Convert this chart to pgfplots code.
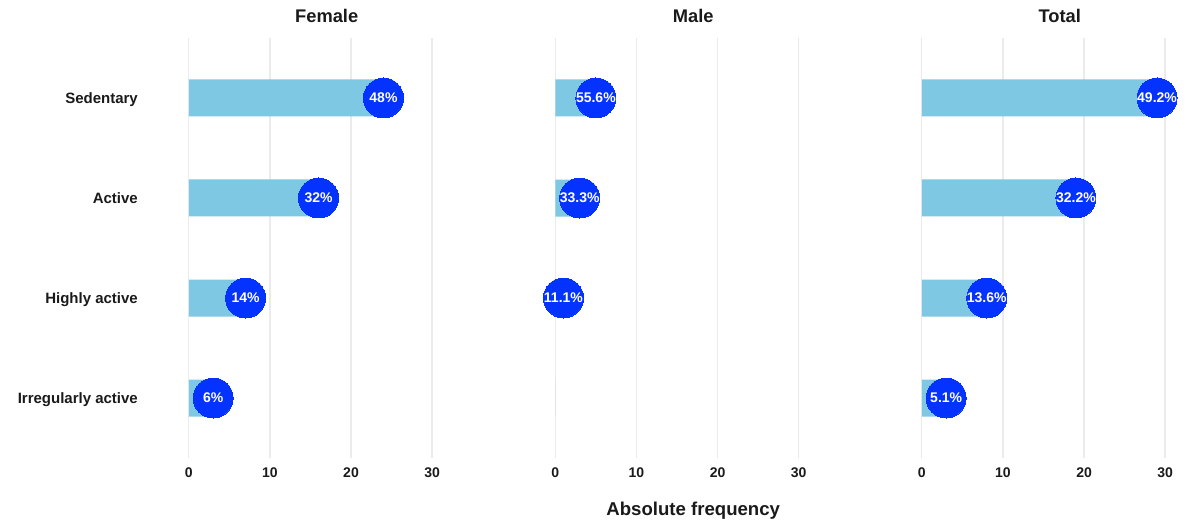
\documentclass[border=0pt]{standalone}
\usepackage{pgfplots}
\pgfplotsset{compat=1.18}
\usepackage{fontspec}
\setmainfont{Liberation Sans}
\definecolor{barblue}{HTML}{7EC8E3}
\definecolor{dotblue}{HTML}{0433FF}
\definecolor{gridgray}{HTML}{EBEBEB}
\definecolor{txt}{HTML}{1A1A1A}
\pgfplotsset{
  panel/.style={
    scale only axis,
    x=8.11pt, y=100pt, y dir=reverse,
    xmin=-1.7, xmax=35.7, ymin=0.4, ymax=4.6,
    axis line style={draw=none},
    tick style={draw=none},
    xtick={0,10,20,30}, ytick={1,2,3,4},
    xmajorgrids, grid style={gridgray, line width=1.3pt},
    clip=false,
    anchor=center,
    xticklabel style={font=\fontsize{14}{16}\selectfont\bfseries, text=txt, anchor=base, yshift=-19pt},
    yticklabel style={font=\fontsize{15}{17}\selectfont\bfseries, text=txt, anchor=base east, inner sep=0pt, xshift=-37pt, yshift=-5.4pt},
    title style={font=\fontsize{18.3}{20}\selectfont\bfseries, text=txt, at={(0.5,1)}, anchor=base, yshift=9.7pt},
    /pgf/number format/assume math mode=true,
  },
  bars/.style={xbar, bar width=37pt, bar shift=0pt, fill=barblue, draw=none},
  dots/.style={only marks, color=dotblue, mark=*, mark size=20pt, mark options={fill=dotblue, draw=dotblue, line width=0pt},
    point meta=explicit symbolic,
    nodes near coords={\pgfplotspointmeta\%},
    nodes near coords align=center,
    nodes near coords style={font=\fontsize{14}{16}\selectfont\bfseries, text=white, anchor=center, inner sep=0pt}},
}
\begin{document}
\begin{tikzpicture}
\path[use as bounding box] (0,0) rectangle (1188pt,532pt);
% Female
\begin{axis}[panel, at={(326.7pt,284pt)}, title={Female},
  yticklabels={Sedentary, Active, Highly active, Irregularly active}]
\addplot[bars] coordinates {(24,1) (16,2) (7,3) (3,4)};
\addplot[dots] table[meta=lab] {
x y lab
24 1 48
16 2 32
7 3 14
3 4 6
};
\end{axis}
% Male
\begin{axis}[panel, at={(693.2pt,284pt)}, title={Male}, yticklabels={},
  xlabel={Absolute frequency},
  xlabel style={font=\fontsize{18.6}{20}\selectfont\bfseries, text=txt, at={(0.5,0)}, anchor=base, yshift=-57pt}]
\addplot[bars] coordinates {(5,1) (3,2) (1,3) (0,4)};
\addplot[dots] table[meta=lab] {
x y lab
5 1 55.6
3 2 33.3
1 3 11.1
};
\end{axis}
% Total
\begin{axis}[panel, at={(1059.7pt,284pt)}, title={Total}, yticklabels={}]
\addplot[bars] coordinates {(29,1) (19,2) (8,3) (3,4)};
\addplot[dots] table[meta=lab] {
x y lab
29 1 49.2
19 2 32.2
8 3 13.6
3 4 5.1
};
\end{axis}
\end{tikzpicture}
\end{document}
